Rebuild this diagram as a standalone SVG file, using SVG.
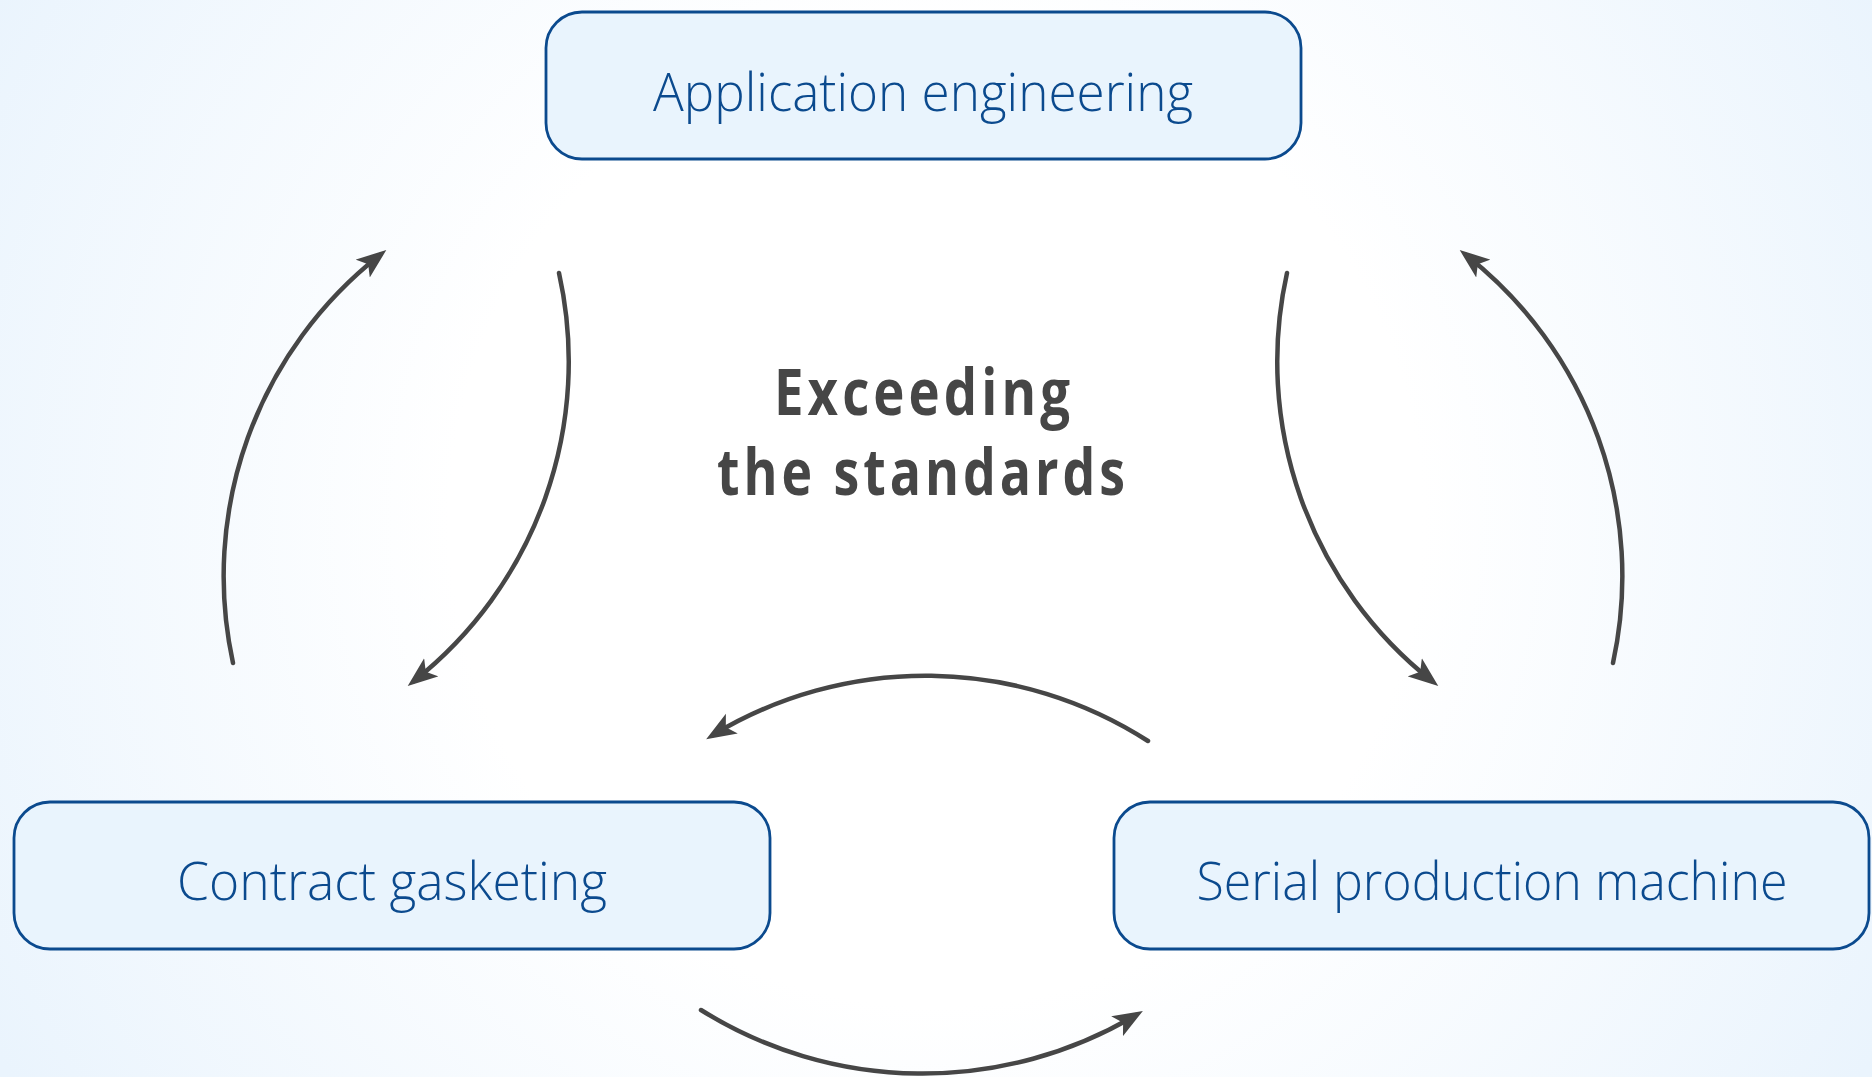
<svg xmlns="http://www.w3.org/2000/svg" width="1872" height="1077" viewBox="0 0 1872 1077">
<style>
.node rect{fill:#e9f4fd;stroke:#0b4a8e;stroke-width:2.8}
.node text{font-family:"Open Sans","Liberation Sans",sans-serif;font-weight:350;font-size:54px;fill:#0b4a8e;text-anchor:middle}
.conn path{fill:none;stroke:#464646;stroke-width:4.5;stroke-linecap:round;marker-end:url(#arrow)}
.title{font-family:"Open Sans","Liberation Sans",sans-serif;font-weight:bold;font-size:65px;letter-spacing:5px;fill:#464646;text-anchor:middle}
</style>
<defs>
<radialGradient id="bg" gradientUnits="userSpaceOnUse" cx="936" cy="520" r="1080">
<stop offset="0" stop-color="#ffffff"/>
<stop offset="0.45" stop-color="#ffffff"/>
<stop offset="1" stop-color="#eaf4fd"/>
</radialGradient>
<marker id="arrow" markerUnits="userSpaceOnUse" viewBox="0 0 30 24" markerWidth="30" markerHeight="24" refX="22" refY="12" orient="auto">
<path d="M0,0.5 L30,12 L0,23.5 L7,12 Z" fill="#464646"/>
</marker>
</defs>
<rect x="0" y="0" width="1872" height="1077" fill="url(#bg)"/>
<g id="connectors" class="conn">
<path d="M233,663 A408,408 0 0 1 380,255"/>
<path d="M559,273 A407,407 0 0 1 414,681"/>
<path d="M1287,273 A407,407 0 0 0 1432,681"/>
<path d="M1613,663 A408,408 0 0 0 1466,255"/>
<path d="M1148,741 A411,411 0 0 0 713,735"/>
<path d="M701,1010 A418,418 0 0 0 1136,1015"/>
</g>
<g id="node-application" class="node">
<rect x="546" y="12" width="755" height="147" rx="36" ry="36"/>
<text x="923" y="111" textLength="540" lengthAdjust="spacingAndGlyphs">Application engineering</text>
</g>
<g id="node-contract" class="node">
<rect x="14" y="802" width="756" height="147" rx="36" ry="36"/>
<text x="392" y="900" textLength="430" lengthAdjust="spacingAndGlyphs">Contract gasketing</text>
</g>
<g id="node-serial" class="node">
<rect x="1114" y="802" width="755" height="147" rx="36" ry="36"/>
<text x="1492" y="900" textLength="591" lengthAdjust="spacingAndGlyphs">Serial production machine</text>
</g>
<g id="center-label">
<text class="title" x="924" y="415" textLength="300" lengthAdjust="spacingAndGlyphs">Exceeding</text>
<text class="title" x="923" y="495" textLength="412" lengthAdjust="spacingAndGlyphs">the standards</text>
</g>
</svg>
